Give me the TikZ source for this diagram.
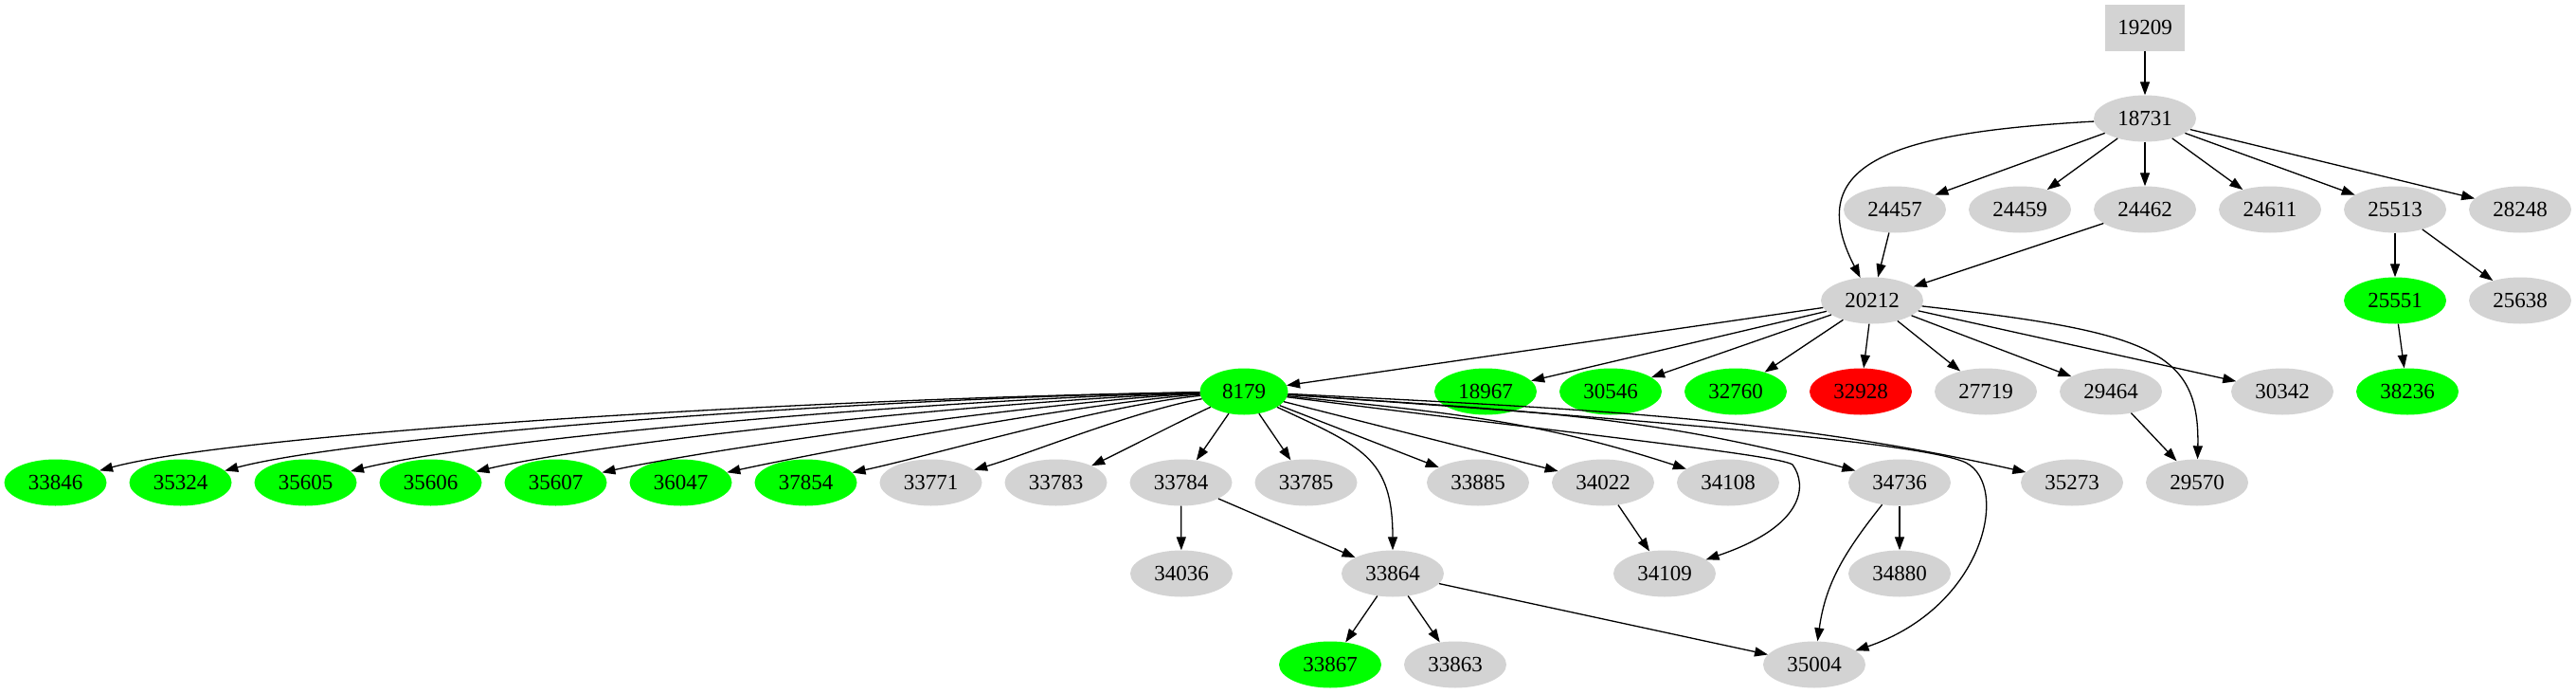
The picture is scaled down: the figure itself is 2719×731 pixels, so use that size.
\documentclass[tikz,border=0pt]{standalone}
\usepackage{fontspec}
\setmainfont{Liberation Serif}
\usepackage{tikz}
\usetikzlibrary{ arrows.meta, shapes.geometric }
\definecolor{gvgray}{HTML}{D3D3D3}
\definecolor{gvgreen}{HTML}{00FF00}
\definecolor{gvred}{HTML}{FF0000}

\begin{document}
\begin{tikzpicture}[x=1pt, y=-1pt,
  vtx/.style={ellipse, fill=gvgray, minimum width=108pt, minimum height=49pt, inner sep=0pt, font=\fontsize{23}{27}\selectfont},
  okvtx/.style={vtx, fill=gvgreen},
  badvtx/.style={vtx, fill=gvred},
  topbox/.style={vtx, rectangle, minimum width=84pt},
  link/.style={-{Triangle[length=14pt, width=10pt]}, line width=1.3pt}]
  \useasboundingbox (0,0) rectangle (2719,731);

  % upper ranks
  \node[topbox] (n19209) at (2264,29) {19209};
  \node[vtx] (n18731) at (2264,125) {18731};
  \node[vtx] (n24457) at (2000,221) {24457};
  \node[vtx] (n24459) at (2132,221) {24459};
  \node[vtx] (n24462) at (2264,221) {24462};
  \node[vtx] (n24611) at (2396,221) {24611};
  \node[vtx] (n25513) at (2528,221) {25513};
  \node[vtx] (n28248) at (2660,221) {28248};
  \node[vtx] (n20212) at (1976,317) {20212};
  \node[okvtx] (n25551) at (2528,317) {25551};
  \node[vtx] (n25638) at (2660,317) {25638};

  % children of 20212
  \node[okvtx, minimum width=93pt] (n8179) at (1313,413) {8179};
  \node[okvtx] (n18967) at (1568,413) {18967};
  \node[okvtx] (n30546) at (1700,413) {30546};
  \node[okvtx] (n32760) at (1832,413) {32760};
  \node[badvtx] (n32928) at (1964,413) {32928};
  \node[vtx] (n27719) at (2096,413) {27719};
  \node[vtx] (n29464) at (2228,413) {29464};
  \node[vtx] (n30342) at (2409,413) {30342};
  \node[okvtx] (n38236) at (2541,413) {38236};

  % children of 8179
  \node[okvtx] (n33846) at (58.5,509) {33846};
  \node[okvtx] (n35324) at (190.5,509) {35324};
  \node[okvtx] (n35605) at (322.5,509) {35605};
  \node[okvtx] (n35606) at (454.5,509) {35606};
  \node[okvtx] (n35607) at (586.5,509) {35607};
  \node[okvtx] (n36047) at (718.5,509) {36047};
  \node[okvtx] (n37854) at (850.5,509) {37854};
  \node[vtx] (n33771) at (982.5,509) {33771};
  \node[vtx] (n33783) at (1114.5,509) {33783};
  \node[vtx] (n33784) at (1246.5,509) {33784};
  \node[vtx] (n33785) at (1378.5,509) {33785};
  \node[vtx] (n33885) at (1560,509) {33885};
  \node[vtx] (n34022) at (1692,509) {34022};
  \node[vtx] (n34108) at (1824,509) {34108};
  \node[vtx] (n34736) at (2005,509) {34736};
  \node[vtx] (n35273) at (2187,509) {35273};
  \node[vtx] (n29570) at (2319,509) {29570};

  % lower ranks
  \node[vtx] (n34036) at (1247,605) {34036};
  \node[vtx] (n33864) at (1470,605) {33864};
  \node[vtx] (n34109) at (1757,605) {34109};
  \node[vtx] (n34880) at (2005,605) {34880};
  \node[okvtx] (n33867) at (1404,701) {33867};
  \node[vtx] (n33863) at (1536,701) {33863};
  \node[vtx] (n35004) at (1915,701) {35004};

  % edges from the top
  \draw[link] (n19209) edge (n18731);
  \draw[link] (n18731) edge (n24457) edge (n24459) edge (n24462) edge (n24611) edge (n25513) edge (n28248);
  \draw[link] (n18731) .. controls (2000,140) and (1900,170) .. (n20212);
  \draw[link] (n24457) edge (n20212);
  \draw[link] (n24462) edge (n20212);
  \draw[link] (n25513) edge (n25551) edge (n25638);
  \draw[link] (n25551) edge (n38236);
  \draw[link] (n20212) edge (n8179) edge (n18967) edge (n30546) edge (n32760) edge (n32928) edge (n27719) edge (n29464) edge (n30342);
  \draw[link] (n20212) .. controls (2270,350) and (2322,370) .. (n29570);
  \draw[link] (n29464) edge (n29570);

  % 8179 fans out to the left
  \draw[link] (n8179) .. controls (855,420) and (250,457) .. (n33846);
  \draw[link] (n8179) .. controls (902,420) and (374,460) .. (n35324);
  \draw[link] (n8179) .. controls (985,421) and (506,463) .. (n35605);
  \draw[link] (n8179) .. controls (1056,422) and (633,466) .. (n35606);
  \draw[link] (n8179) .. controls (1117,422) and (757,472) .. (n35607);
  \draw[link] (n8179) .. controls (1148,424) and (864,477) .. (n36047);
  \draw[link] (n8179) .. controls (1166,427) and (981,481) .. (n37854);
  \draw[link] (n8179) .. controls (1198,433) and (1085,479) .. (n33771);
  \draw[link] (n8179) .. controls (1244,445) and (1180,478) .. (n33783);
  \draw[link] (n8179) edge (n33784) edge (n33785) edge (n33885) edge (n34022);

  % and to the right
  \draw[link] (n8179) .. controls (1526,435) and (1621,443) .. (n34108);
  \draw[link] (n8179) .. controls (1595,433) and (1730,435) .. (n34736);
  \draw[link] (n8179) .. controls (1666,431) and (1880,440) .. (n35273);
  \draw[link] (n8179) .. controls (1437,471) and (1470,482) .. (n33864);
  \draw[link] (n8179) .. controls (1700,462) and (1875,480) .. (1892,490) .. controls (1908,512) and (1905,555) .. (n34109);
  \draw[link] (n8179) .. controls (1700,440) and (2030,466) .. (2075,488) .. controls (2122,512) and (2095,640) .. (n35004);

  % lower edges
  \draw[link] (n33784) edge (n34036) edge (n33864);
  \draw[link] (n34022) edge (n34109);
  \draw[link] (n34736) edge (n34880);
  \draw[link] (n34736) .. controls (1948,581) and (1927,614) .. (n35004);
  \draw[link] (n33864) edge (n33867) edge (n33863) edge (n35004);
\end{tikzpicture}
\end{document}
